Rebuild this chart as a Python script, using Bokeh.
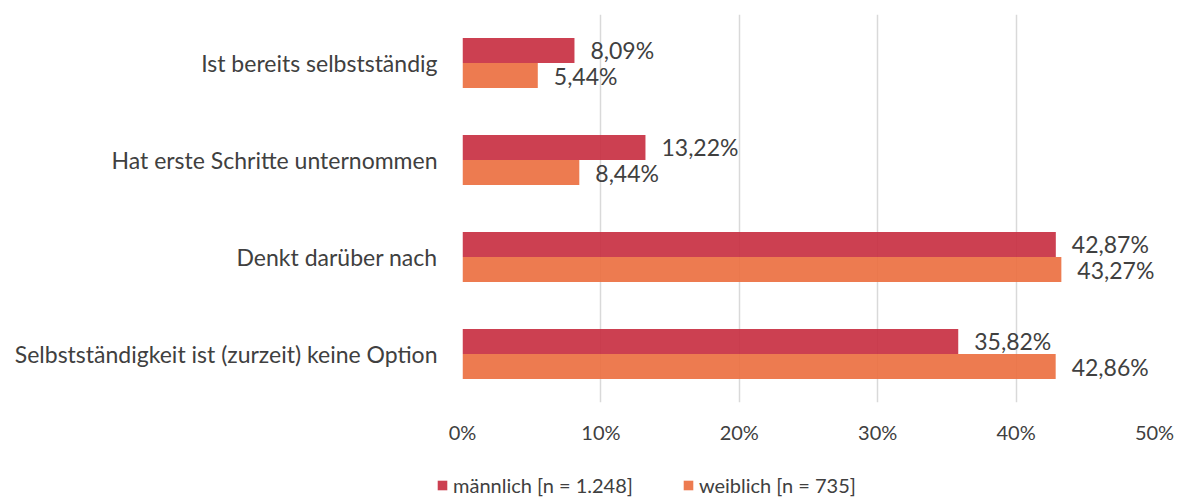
from bokeh.plotting import figure
from bokeh.layouts import column
from bokeh.models import ColumnDataSource, FactorRange, Legend, LegendItem, FixedTicker
from bokeh.transform import dodge
from bokeh.core.properties import value
from bokeh.embed import file_html
from bokeh.resources import INLINE

categories = [
    "Ist bereits selbstständig",
    "Hat erste Schritte unternommen",
    "Denkt darüber nach",
    "Selbstständigkeit ist (zurzeit) keine Option",
]
male = [8.09, 13.22, 42.87, 35.82]
female = [5.44, 8.44, 43.27, 42.86]
series_names = ["männlich [n = 1.248]", "weiblich [n = 735]"]
x_ticks = [0, 10, 20, 30, 40, 50]
tick_labels = ["0%", "10%", "20%", "30%", "40%", "50%"]

FONT = "Lato"
TXT = "#404040"
MALE_C = "#C83042"
FEMALE_C = "#EB7041"


def fmt(v):
    return f"{v:.2f}%".replace(".", ",")


src = ColumnDataSource(dict(
    cat=categories,
    male=male,
    female=female,
    male_lbl=[fmt(v) for v in male],
    female_lbl=[fmt(v) for v in female],
))

p = figure(
    width=1180, height=460,
    y_range=FactorRange(factors=categories[::-1], range_padding=0),
    x_range=(0, 50),
    output_backend="svg", toolbar_location=None,
    min_border_left=462, min_border_right=26,
    min_border_top=14, min_border_bottom=58,
)
p.outline_line_color = None
p.background_fill_color = "white"
p.border_fill_color = "white"

p.ygrid.grid_line_color = None
p.xgrid.grid_line_color = "#d9d9d9"
p.xgrid.grid_line_width = 1.5
p.xgrid.ticker = FixedTicker(ticks=x_ticks)

xa = p.xaxis[0]
xa.ticker = FixedTicker(ticks=x_ticks)
xa.major_label_overrides = {t: l for t, l in zip(x_ticks, tick_labels)}
xa.axis_line_color = None
xa.major_tick_line_color = None
xa.minor_tick_line_color = None
xa.major_tick_out = 0
xa.major_tick_in = 0
xa.minor_tick_out = 0
xa.major_label_standoff = 17
xa.major_label_text_font = FONT
xa.major_label_text_font_size = "20px"
xa.major_label_text_color = TXT

ya = p.yaxis[0]
ya.axis_line_color = None
ya.major_tick_line_color = None
ya.minor_tick_line_color = None
ya.major_tick_out = 0
ya.major_tick_in = 0
ya.major_label_standoff = 25
ya.major_label_text_font = FONT
ya.major_label_text_font_size = "23px"
ya.major_label_text_color = TXT

H = 0.258
D = 0.129
p.hbar(y=dodge("cat", D, range=p.y_range), left=0, right="male", height=H,
       source=src, fill_color=MALE_C, fill_alpha=0.92, line_color=None)
p.hbar(y=dodge("cat", -D, range=p.y_range), left=0, right="female", height=H,
       source=src, fill_color=FEMALE_C, fill_alpha=0.92, line_color=None)

for col, lbl, d in (("male", "male_lbl", D), ("female", "female_lbl", -D)):
    p.text(x=col, y=dodge("cat", d, range=p.y_range), text=lbl, source=src,
           x_offset=16, text_align="left", text_baseline="middle",
           text_font=value(FONT), text_font_size="23px", text_color=TXT)

# legend strip below the chart
lg = figure(
    width=1180, height=38, x_range=(0, 1), y_range=(0, 1),
    output_backend="svg", toolbar_location=None,
    min_border_left=0, min_border_right=0, min_border_top=0, min_border_bottom=0,
)
lg.axis.visible = False
lg.grid.visible = False
lg.outline_line_color = None
lg.background_fill_color = "white"
lg.border_fill_color = "white"

legend_x = 436
try:
    p.frame_align = False
    lg.frame_align = False
except AttributeError:
    legend_x = 0

# swatch renderers for the legend only (placed fully outside the visible ranges)
swatch = ColumnDataSource(dict(y=[-20], left=[-30], right=[-20]))
l_m = lg.hbar(y="y", left="left", right="right", height=0.5, source=swatch,
              fill_color=MALE_C, fill_alpha=0.92, line_color=None)
l_f = lg.hbar(y="y", left="left", right="right", height=0.5, source=swatch,
              fill_color=FEMALE_C, fill_alpha=0.92, line_color=None)

legend = Legend(
    items=[LegendItem(label=series_names[0], renderers=[l_m]),
           LegendItem(label=series_names[1], renderers=[l_f])],
    orientation="horizontal",
    location=(legend_x, 1),
    glyph_width=12, glyph_height=12,
    label_standoff=5, spacing=49, padding=0, margin=0,
    border_line_color=None, background_fill_alpha=0,
    label_text_font=FONT, label_text_font_size="20px", label_text_color=TXT,
)
lg.add_layout(legend, "center")

layout = column(p, lg, spacing=0)
open("out.html", "w").write(file_html(layout, INLINE))
